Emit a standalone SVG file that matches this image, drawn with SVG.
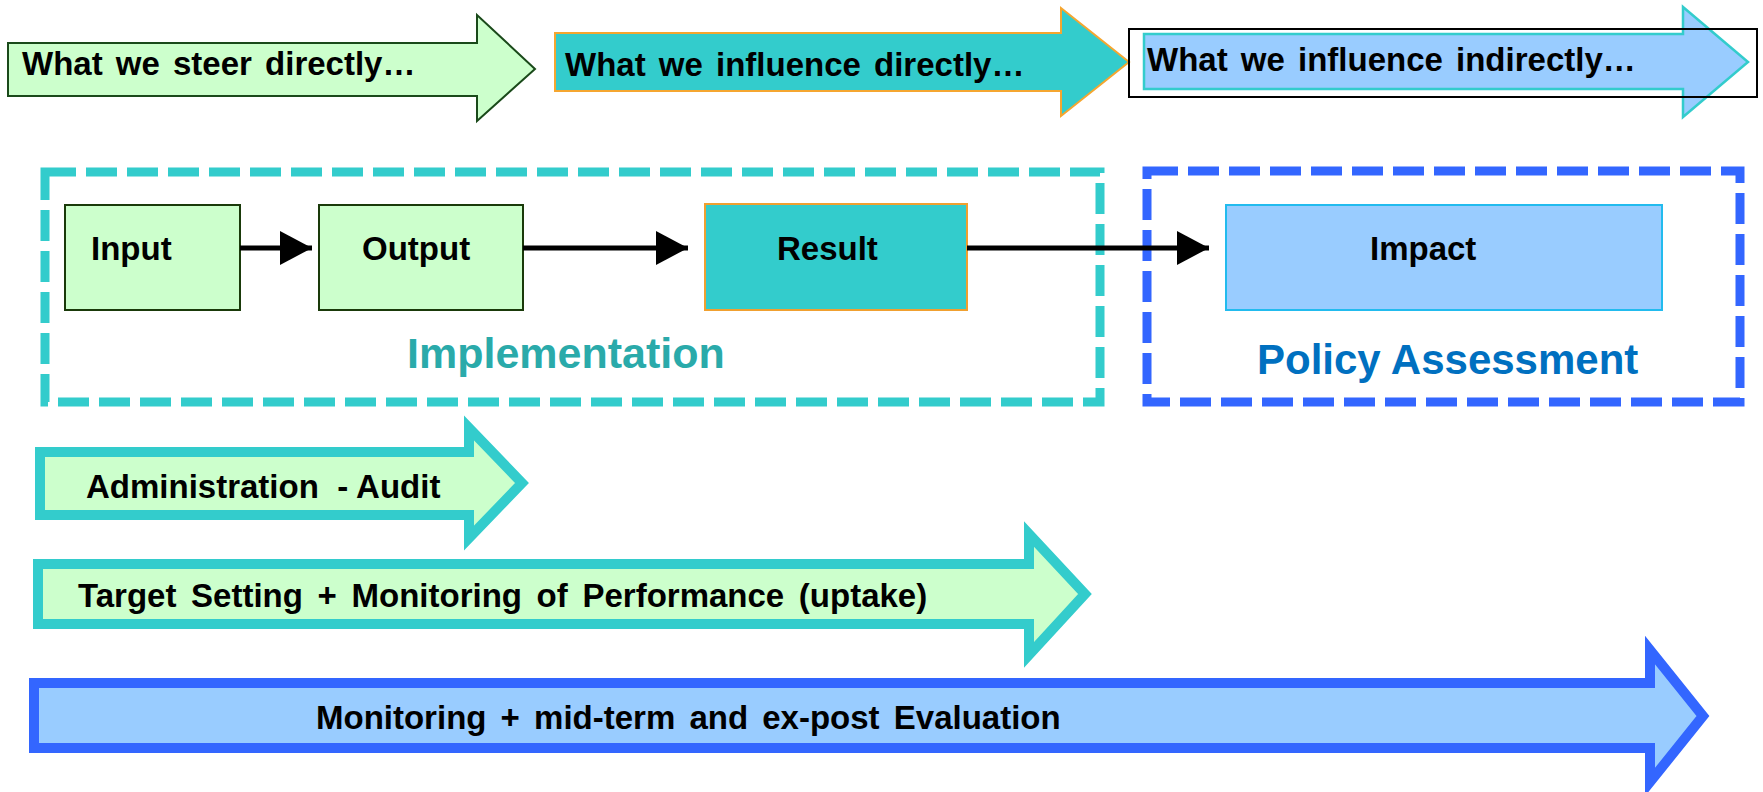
<svg xmlns="http://www.w3.org/2000/svg" width="1763" height="792" viewBox="0 0 1763 792">
<defs>
<style>
text{font-family:"Liberation Sans",Arial,Helvetica,sans-serif;font-weight:bold;fill:#000}
.lbl{font-size:33px;word-spacing:4px}
.box{font-size:33px}
.conn{stroke:#000;stroke-width:5;fill:none}
.dash{fill:none;stroke-width:9;stroke-dasharray:31 10}
</style>
<marker id="ah" markerUnits="userSpaceOnUse" markerWidth="33" markerHeight="34" refX="32" refY="17" orient="auto">
<path d="M0,0 L32,17 L0,34 Z" fill="#000"/>
</marker>
</defs>
<rect width="1763" height="792" fill="#fff"/>

<g id="steer">
<polygon points="8,43 477,43 477,15 535,69 477,121 477,96 8,96" fill="#ccffcc" stroke="#1a4a1a" stroke-width="2"/>
<text class="lbl" x="22" y="75">What we steer directly…</text>
</g>
<g id="influence-directly">
<polygon points="555,33 1061,33 1061,8 1129,62 1061,116 1061,91 555,91" fill="#33cccc" stroke="#f5a630" stroke-width="2"/>
<text class="lbl" x="565" y="76">What we influence directly…</text>
</g>
<g id="influence-indirectly">
<polygon points="1144,34 1683,34 1683,7 1748,62 1683,117 1683,89 1144,89" fill="#99ccff" stroke="#33cccc" stroke-width="2.5"/>
<rect x="1129" y="29" width="628" height="68" fill="none" stroke="#000" stroke-width="2"/>
<text class="lbl" x="1147" y="71">What we influence indirectly…</text>
</g>

<g id="implementation">
<rect class="dash" x="45" y="172" width="1055" height="230" stroke="#33cccc"/>
<text x="407" y="368" font-size="43" style="fill:#2aaaaa">Implementation</text>
</g>
<g id="policy-assessment">
<rect class="dash" x="1147" y="171" width="593" height="231" stroke="#3366ff"/>
<text x="1257" y="374" font-size="42" style="fill:#0070c0">Policy Assessment</text>
</g>

<g id="input">
<rect x="65" y="205" width="175" height="105" fill="#ccffcc" stroke="#1a3a0a" stroke-width="2"/>
<text class="box" x="91" y="260">Input</text>
</g>
<g id="output">
<rect x="319" y="205" width="204" height="105" fill="#ccffcc" stroke="#1a3a0a" stroke-width="2"/>
<text class="box" x="362" y="260">Output</text>
</g>
<g id="result">
<rect x="705" y="204" width="262" height="106" fill="#33cccc" stroke="#f0a030" stroke-width="2"/>
<text class="box" x="777" y="260">Result</text>
</g>
<g id="impact">
<rect x="1226" y="205" width="436" height="105" fill="#99ccff" stroke="#22bbee" stroke-width="2"/>
<text class="box" x="1370" y="260">Impact</text>
</g>

<g id="connectors">
<line class="conn" x1="240" y1="248" x2="312" y2="248" marker-end="url(#ah)"/>
<line class="conn" x1="523" y1="248" x2="688" y2="248" marker-end="url(#ah)"/>
<line class="conn" x1="967" y1="248" x2="1209" y2="248" marker-end="url(#ah)"/>
</g>

<g id="admin-audit">
<polygon points="40,452 469,452 469,428 522,483 469,538 469,515 40,515" fill="#ccffcc" stroke="#33cccc" stroke-width="10"/>
<text class="box" x="86" y="498" xml:space="preserve">Administration  - Audit</text>
</g>
<g id="target-setting">
<polygon points="38,564 1029,564 1029,534 1085,594 1029,655 1029,624 38,624" fill="#ccffcc" stroke="#33cccc" stroke-width="10"/>
<text class="box" x="78" y="607" style="word-spacing:5.5px">Target Setting + Monitoring of Performance (uptake)</text>
</g>
<g id="evaluation">
<polygon points="34,683 1650,683 1650,650 1703,716 1650,782 1650,748 34,748" fill="#99ccff" stroke="#3366ff" stroke-width="10"/>
<text class="box" x="316" y="729" style="word-spacing:5px">Monitoring + mid-term and ex-post Evaluation</text>
</g>
</svg>
